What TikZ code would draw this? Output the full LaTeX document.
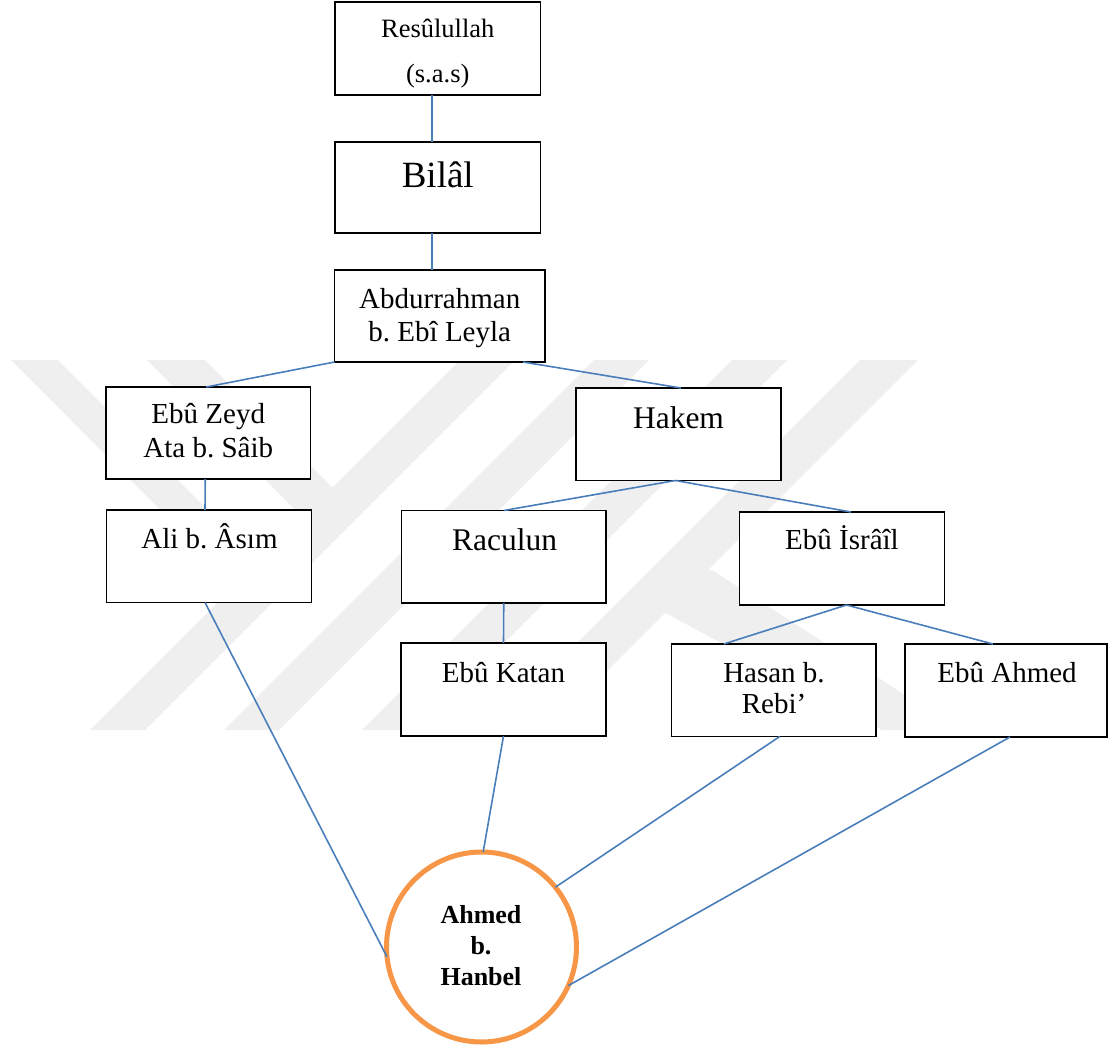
\documentclass[tikz,border=0pt]{standalone}
\usepackage{fontspec}
\setmainfont{Liberation Serif}
\frenchspacing
\definecolor{lineblue}{HTML}{4A7EBB}
\definecolor{ringorange}{HTML}{F79646}
\definecolor{wmgray}{HTML}{EFEFEF}
\begin{document}
\begin{tikzpicture}[x=1pt,y=-1pt,
  box/.style={draw=black, line width=1.8pt, fill=white, rectangle, inner sep=0pt, outer sep=0pt},
  link/.style={draw=lineblue, line width=1.6pt},
  txt/.style={inner sep=0pt, anchor=base, font=\fontsize{29}{33}\selectfont},
  bigtxt/.style={inner sep=0pt, anchor=base, font=\fontsize{31.5}{36}\selectfont},
  smalltxt/.style={inner sep=0pt, anchor=base, font=\fontsize{26.5}{30}\selectfont},
  hugetxt/.style={inner sep=0pt, anchor=base, font=\fontsize{37}{42}\selectfont},
  boldtxt/.style={inner sep=0pt, anchor=base, font=\fontsize{26}{30}\selectfont\bfseries},
  ring/.style={circle, draw=ringorange, line width=5pt, fill=white, minimum size=190pt, inner sep=0pt, outer sep=0pt}
]
\useasboundingbox (0,0) rectangle (1108,1049);
% faint watermark
\fill[wmgray] (90,730) -- (145,730) -- (515,360) -- (460,360) -- cycle;
\fill[wmgray] (224,730) -- (279,730) -- (649,360) -- (594,360) -- cycle;
\fill[wmgray] (362,730) -- (417,730) -- (787,360) -- (732,360) -- cycle;
\fill[wmgray] (490,730) -- (548,730) -- (918,360) -- (860,360) -- cycle;
\fill[wmgray] (11,360) -- (58,360) -- (280,582) -- (250,600) -- cycle;
\fill[wmgray] (147,360) -- (205,360) -- (345,500) -- (315,530) -- cycle;
\fill[wmgray] (690,570) -- (712,570) -- (959,730) -- (882,730) -- (660,610) -- cycle;

% boxes
\node[box, minimum width=205.5pt, minimum height=93pt] (res) at (437.75,48.5) {};
\node[box, minimum width=205.5pt, minimum height=91pt] (bil) at (437.75,187.5) {};
\node[box, minimum width=210.5pt, minimum height=92pt] (abd) at (439.75,316) {};
\node[box, minimum width=204.5pt, minimum height=92pt] (ebz) at (208.25,433) {};
\node[box, minimum width=205pt, minimum height=92.5pt] (hak) at (678.5,434.25) {};
\node[box, minimum width=205pt, minimum height=92.5pt] (ali) at (209,556.25) {};
\node[box, minimum width=204.5pt, minimum height=92.5pt] (rac) at (503.75,556.75) {};
\node[box, minimum width=205pt, minimum height=93pt] (isr) at (842,558.5) {};
\node[box, minimum width=205pt, minimum height=93pt] (kat) at (503.5,689.5) {};
\node[box, minimum width=204.5pt, minimum height=92.5pt] (has) at (773.75,690.25) {};
\node[box, minimum width=202pt, minimum height=93pt] (ahm) at (1006,690.5) {};
\node[ring] (han) at (481.5,947) {};

% texts
\node[smalltxt] (resA) at (437.75,38) {Resûlullah};
\node[smalltxt] (resB) at (437.75,82) {(s.a.s)};
\node[hugetxt] (bilA) at (437.75,187) {Bilâl};
\node[txt] (abdA) at (439.75,308) {Abdurrahman};
\node[txt] (abdB) at (439.75,341) {b. Ebî Leyla};
\node[txt] (ebzA) at (208.25,423) {Ebû Zeyd};
\node[txt] (ebzB) at (208.25,457) {Ata b. Sâib};
\node[bigtxt] (hakA) at (678.5,428.5) {Hakem};
\node[txt] (aliA) at (209.5,548) {Ali b. Âsım};
\node[bigtxt] (racA) at (504.5,550.5) {Raculun};
\node[txt] (isrA) at (842,549.5) {Ebû İsrâîl};
\node[txt] (katA) at (503.5,682) {Ebû Katan};
\node[txt] (hasA) at (774,682) {Hasan b.};
\node[txt] (hasB) at (774,713.5) {Rebi’};
\node[txt] (ahmA) at (1007,682) {Ebû Ahmed};
\node[boldtxt] (hanA) at (481,923) {Ahmed};
\node[boldtxt] (hanB) at (481,954) {b.};
\node[boldtxt] (hanC) at (481,985.5) {Hanbel};

% connectors
\draw[link] ([xshift=-6pt]res.south) -- ([xshift=-6pt]bil.north);
\draw[link] ([xshift=-6pt]bil.south) -- ([xshift=-8pt]abd.north);
\draw[link] (abd.south west) -- ([xshift=-2pt]ebz.north);
\draw[link] ([xshift=-22pt]abd.south east) -- ([xshift=2.5pt]hak.north);
\draw[link] ([xshift=-3pt]ebz.south) -- ([xshift=-4pt]ali.north);
\draw[link] ([xshift=-3pt]hak.south) -- (rac.north);
\draw[link] ([xshift=-3pt]hak.south) -- ([xshift=9pt]isr.north);
\draw[link] (rac.south) -- (kat.north);
\draw[link] ([xshift=4.5pt]isr.south) -- ([xshift=-50pt]has.north);
\draw[link] ([xshift=4.5pt]isr.south) -- ([xshift=-13pt]ahm.north);
\draw[link] ([xshift=-4pt]ali.south) -- (han.186.5);
\draw[link] (kat.south) -- (han.89);
\draw[link] ([xshift=6pt]has.south) -- (han.39);
\draw[link] ([xshift=4pt]ahm.south) -- (han.-24.7);
\end{tikzpicture}
\end{document}
